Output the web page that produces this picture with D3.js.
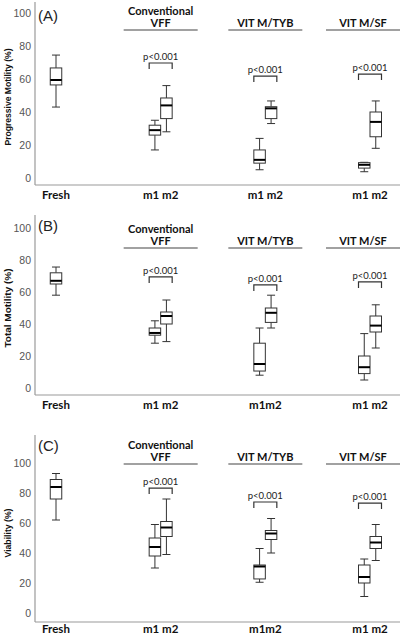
<!DOCTYPE html>
<html><head><meta charset="utf-8">
<script src="https://cdn.jsdelivr.net/npm/d3@7"></script>
<style>
html,body{margin:0;padding:0;background:#fff;}
svg{display:block;}
</style></head>
<body>
<script>
// ---------- DATA ----------
const groups = ["Fresh", "Conventional VFF", "VIT M/TYB", "VIT M/SF"];
const headers = [null, ["Conventional", "VFF"], ["VIT M/TYB"], ["VIT M/SF"]];
const xLabelsA = ["Fresh", "m1 m2", "m1 m2", "m1 m2"];
const xLabelsB = ["Fresh", "m1 m2", "m1m2", "m1 m2"];
const xLabelsC = ["Fresh", "m1 m2", "m1m2", "m1 m2"];
const yTicks = [0, 20, 40, 60, 80, 100];
const panelLetters = ["(A)", "(B)", "(C)"];
const yTitles = ["Progressive Motility (%)", "Total Motility (%)", "Viability (%)"];
const pLabel = "p<0.001";

// box stats: [min, q1, median, q3, max]
// Progressive motility (A)
const progFresh = [43, 56.4, 59.4, 66.7, 74.5];
const progM1 = [[17, 26, 29, 32, 35], [5, 9, 11, 17, 24], [3.8, 6, 8, 9.3, 9.5]];
const progM2 = [[28, 36, 44, 48.5, 56], [33, 36, 42.2, 43.2, 46.7], [18, 25, 34, 40, 46.7]];
const progBracket = [69.7, 61.8, 63];
// Total motility (B)
const totFresh = [58, 65, 67, 72, 75.6];
const totM1 = [[28, 33, 34.4, 37.5, 42], [8, 10.6, 15, 28, 37.5], [5, 9, 13, 20, 34]];
const totM2 = [[29, 40, 45, 47.5, 55], [37.5, 41, 47, 50, 58], [25, 35, 39, 45, 52]];
const totBracket = [69.4, 64.4, 66.3];
// Viability (C)
const viaFresh = [62, 76, 84, 89, 93];
const viaM1 = [[30, 38, 44, 50, 59], [20.5, 22.7, 31, 32, 43], [11, 20, 24, 32, 36]];
const viaM2 = [[39, 51, 57, 61, 76], [40, 49, 53, 55, 63], [35, 43, 47, 51, 59]];
const viaBracket = [83.3, 74, 73.3];

// ---------- LAYOUT ----------
const W = 402, H = 633;
const axisX = 35, axisRight = 400;
const panels = [
  {fresh: progFresh, m1: progM1, m2: progM2, br: progBracket, labels: xLabelsA,
   y0: 178, y100: 13, top: 2, bottom: 185, labelY: 194, letterY: 15, ul: 30, titleLen: 97, titleY: 97},
  {fresh: totFresh, m1: totM1, m2: totM2, br: totBracket, labels: xLabelsB,
   y0: 388, y100: 228, top: 215, bottom: 395, labelY: 404, letterY: 225, ul: 248, titleLen: 79, titleY: 308},
  {fresh: viaFresh, m1: viaM1, m2: viaM2, br: viaBracket, labels: xLabelsC,
   y0: 613, y100: 463, top: 435, bottom: 622, labelY: 628, letterY: 445, ul: 464, titleLen: 49, titleY: 533}
];
const boxW = 11.5, capW = 8, pairOff = 5.75;

const x = d3.scalePoint().domain(groups).range([56, 370]);

const svg = d3.select("body").append("svg").attr("width", W).attr("height", H);

panels.forEach((p, pi) => {
  const y = d3.scaleLinear().domain([0, 100]).range([p.y0, p.y100]);
  const g = svg.append("g");

  // axis lines
  g.append("line").attr("x1", axisX).attr("x2", axisX).attr("y1", p.top).attr("y2", p.bottom)
    .attr("stroke", "#9a9a9a").attr("stroke-width", 1.2);
  g.append("line").attr("x1", axisX).attr("x2", axisRight).attr("y1", p.bottom).attr("y2", p.bottom)
    .attr("stroke", "#9a9a9a").attr("stroke-width", 1.2);

  // y tick labels
  const ax = g.append("g").attr("transform", `translate(${axisX},0)`)
    .call(d3.axisLeft(y).tickValues(yTicks).tickSize(0).tickPadding(4));
  ax.select(".domain").remove();
  ax.selectAll("text").attr("font-family", "Liberation Sans, Arial, sans-serif")
    .attr("font-size", 10.5).attr("fill", "#555");

  // y title
  g.append("text").attr("transform", `translate(8,${p.titleY}) rotate(-90)`)
    .attr("text-anchor", "middle").attr("dominant-baseline", "central")
    .attr("font-family", "Liberation Sans, Arial, sans-serif").attr("font-weight", "bold")
    .attr("font-size", 9).attr("textLength", p.titleLen).attr("lengthAdjust", "spacingAndGlyphs")
    .attr("fill", "#111").text(yTitles[pi]);

  // panel letter
  g.append("text").attr("x", 38).attr("y", p.letterY).attr("dominant-baseline", "central")
    .attr("font-family", "Liberation Sans, Arial, sans-serif").attr("font-size", 15)
    .attr("fill", "#222").text(panelLetters[pi]);

  // x labels
  g.selectAll(".xl").data(groups).enter().append("text")
    .attr("x", d => x(d)).attr("y", p.labelY).attr("text-anchor", "middle").attr("dominant-baseline", "central")
    .attr("font-family", "Lato, sans-serif").attr("font-weight", "bold").attr("font-size", 11.5)
    .attr("fill", "#111").text((d, i) => p.labels[i]);

  // headers
  groups.forEach((gr, i) => {
    if (!headers[i]) return;
    const c = Math.min(x(gr), axisRight - 37);
    g.append("line").attr("x1", c - 37).attr("x2", c + 37).attr("y1", p.ul).attr("y2", p.ul)
      .attr("stroke", "#444").attr("stroke-width", 1.2);
    const lines = headers[i];
    lines.forEach((t, li) => {
      const yy = lines.length === 2 ? p.ul - 20 + li * 12 : p.ul - 7.5;
      g.append("text").attr("x", c).attr("y", yy).attr("text-anchor", "middle").attr("dominant-baseline", "central")
        .attr("font-family", "Lato, sans-serif").attr("font-weight", "bold").attr("font-size", 11)
        .attr("fill", "#111").text(t);
    });
  });

  // boxes
  const boxes = [{cx: x(groups[0]), s: p.fresh}];
  groups.slice(1).forEach((gr, i) => {
    boxes.push({cx: x(gr) - pairOff, s: p.m1[i]});
    boxes.push({cx: x(gr) + pairOff, s: p.m2[i]});
  });
  boxes.forEach(b => {
    const [mn, q1, md, q3, mx] = b.s;
    const bg = g.append("g");
    bg.append("line").attr("x1", b.cx).attr("x2", b.cx).attr("y1", y(mx)).attr("y2", y(q3))
      .attr("stroke", "#333").attr("stroke-width", 1);
    bg.append("line").attr("x1", b.cx).attr("x2", b.cx).attr("y1", y(q1)).attr("y2", y(mn))
      .attr("stroke", "#333").attr("stroke-width", 1);
    [mn, mx].forEach(v => bg.append("line").attr("x1", b.cx - capW / 2).attr("x2", b.cx + capW / 2)
      .attr("y1", y(v)).attr("y2", y(v)).attr("stroke", "#333").attr("stroke-width", 1));
    bg.append("rect").attr("x", b.cx - boxW / 2).attr("y", y(q3)).attr("width", boxW)
      .attr("height", Math.max(0.5, y(q1) - y(q3))).attr("fill", "#fff").attr("stroke", "#333").attr("stroke-width", 1);
    bg.append("line").attr("x1", b.cx - boxW / 2).attr("x2", b.cx + boxW / 2).attr("y1", y(md)).attr("y2", y(md))
      .attr("stroke", "#000").attr("stroke-width", 2);
  });

  // significance brackets
  groups.slice(1).forEach((gr, i) => {
    const c = x(gr);
    const yt = y(p.br[i]);
    g.append("path").attr("d", `M${c - 11.5},${yt + 6}V${yt}H${c + 11.5}V${yt + 6}`)
      .attr("fill", "none").attr("stroke", "#333").attr("stroke-width", 1.2);
    g.append("text").attr("x", c).attr("y", yt - 3).attr("text-anchor", "middle")
      .attr("font-family", "Lato, sans-serif").attr("font-size", 9.5).attr("fill", "#222").text(pLabel);
  });
});
</script>
</body></html>
